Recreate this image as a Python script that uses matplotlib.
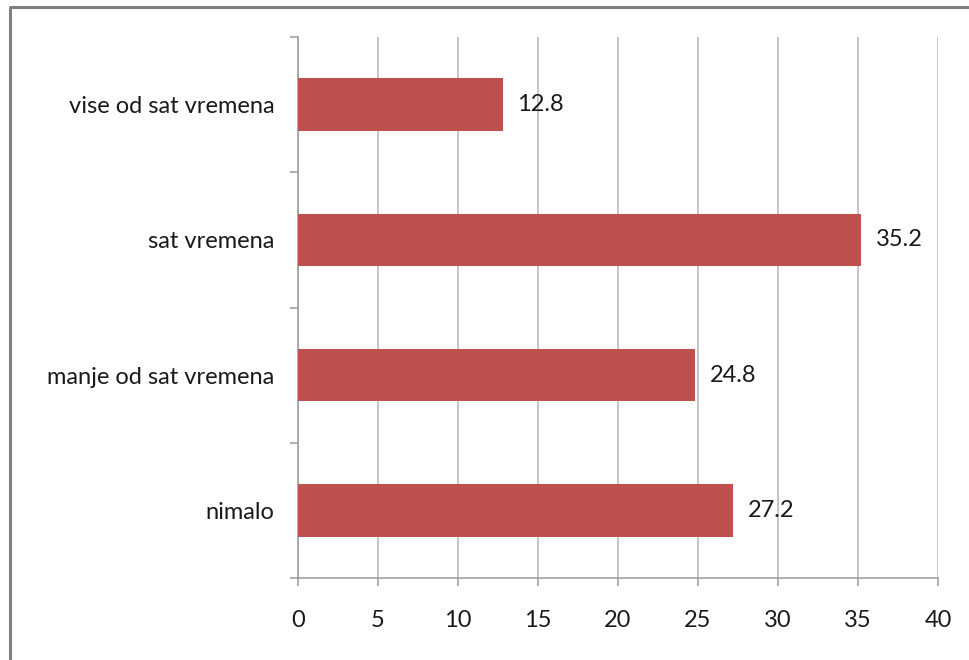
# -*- coding: utf-8 -*-
import matplotlib
matplotlib.use('Agg')
import matplotlib.pyplot as plt
from matplotlib.lines import Line2D

# Datos del grafico
kategorije = ['nimalo', 'manje od sat vremena', 'sat vremena', 'vise od sat vremena']
vrijednosti = [27.2, 24.8, 35.2, 12.8]
x_ticks = [0, 5, 10, 15, 20, 25, 30, 35, 40]

_BAR_COLOR = '#C0504D'
_GRID_COLOR = '#b5b5b5'
_AXIS_COLOR = '#9a9a9a'
_TEXT_COLOR = '#1a1a1a'
_FONT_SIZE = 17

plt.rcParams['font.family'] = ['Lato', 'DejaVu Sans']

fig = plt.figure(figsize=(9.69, 6.6), dpi=100)
ax = fig.add_axes([298 / 969, 1 - 578 / 660, 640 / 969, 541 / 660])

pos = list(range(len(kategorije)))
ax.barh(pos, vrijednosti, height=0.39, color=_BAR_COLOR, zorder=3)

for p, v in zip(pos, vrijednosti):
    ax.annotate('%.1f' % v, xy=(v, p), xytext=(10.5, 0), textcoords='offset points',
                ha='left', va='center', fontsize=_FONT_SIZE, color=_TEXT_COLOR, zorder=4)

ax.set_xlim(0, 40)
ax.set_ylim(-0.5, len(kategorije) - 0.5)
ax.set_xticks(x_ticks)
ax.set_xticklabels([str(t) for t in x_ticks])
ax.xaxis.grid(True, color=_GRID_COLOR, linewidth=1.1, zorder=0)

# y: ticks mayores en los limites, etiquetas en los centros
ax.set_yticks([p - 0.5 for p in pos] + [len(pos) - 0.5])
ax.set_yticklabels([])
ax.set_yticks(pos, minor=True)
ax.set_yticklabels(kategorije, minor=True)
ax.tick_params(axis='y', which='major', length=6, width=1.1, color=_AXIS_COLOR, direction='out')
ax.tick_params(axis='y', which='minor', length=0, pad=17, labelsize=_FONT_SIZE, labelcolor=_TEXT_COLOR)
ax.tick_params(axis='x', length=6, width=1.1, color=_AXIS_COLOR, direction='out', pad=17,
               labelsize=_FONT_SIZE, labelcolor=_TEXT_COLOR)

for s in ['top', 'right']:
    ax.spines[s].set_visible(False)
for s in ['left', 'bottom']:
    ax.spines[s].set_color(_AXIS_COLOR)
    ax.spines[s].set_linewidth(1.1)

# Marco exterior
bx = 9.5 / 969
by = 1 - 6.5 / 660
fig.add_artist(Line2D([bx, bx, 1], [0, by, by], transform=fig.transFigure,
                      color='#808080', linewidth=2.2))

fig.savefig('out.png', dpi=100)
